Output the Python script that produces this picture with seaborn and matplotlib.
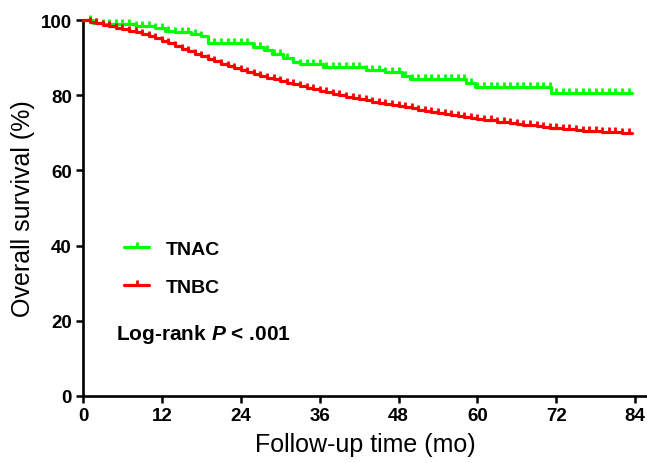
# Kaplan-Meier style overall survival plot, TNAC vs TNBC
import numpy as np
import pandas as pd
import matplotlib
matplotlib.use('Agg')
import matplotlib.pyplot as plt
from matplotlib.lines import Line2D
import seaborn as sns

# ── data ─────────────────────────────────────────────────────
tnac_time = [0, 1.5, 3, 8, 11, 12.5, 14, 16.5, 18, 19, 25.8, 27.5, 28.8, 30.5,
             32, 33, 36.5, 43, 46, 48.5, 49.8, 58.3, 59.7, 71.2, 83.5]
tnac_surv = [100, 99.3, 98.9, 98.5, 97.8, 97.2, 96.8, 96.3, 95.8, 94.0, 92.8,
             91.9, 91.0, 89.8, 88.9, 88.2, 87.5, 86.8, 86.2, 85.2, 84.2, 83.3,
             82.3, 80.6, 80.6]

tnbc_time = list(range(0, 84)) + [83.5]
tnbc_surv = [100, 99.6, 99.2, 98.8, 98.4, 98.0, 97.6, 97.2, 96.8, 96.4,
             95.8, 95.2, 94.5, 93.8, 93.1, 92.4, 91.7, 91.0, 90.3, 89.6,
             89.0, 88.4, 87.8, 87.2, 86.7, 86.2, 85.7, 85.2, 84.7, 84.2,
             83.7, 83.3, 82.9, 82.4, 82.0, 81.6, 81.2, 80.8, 80.4, 80.0,
             79.6, 79.2, 78.9, 78.6, 78.3, 78.0, 77.7, 77.4, 77.1, 76.8,
             76.5, 76.2, 75.9, 75.6, 75.4, 75.1, 74.8, 74.6, 74.3, 74.0,
             73.8, 73.5, 73.3, 73.0, 72.8, 72.6, 72.4, 72.2, 72.0, 71.8,
             71.6, 71.4, 71.2, 71.0, 70.9, 70.7, 70.6, 70.5, 70.4, 70.3,
             70.2, 70.1, 70.0, 69.9, 69.9]

censor_times = list(range(1, 84))
groups = ['TNAC', 'TNBC']
colors = {'TNAC': '#00ff00', 'TNBC': '#ff0000'}

df = pd.concat([
    pd.DataFrame({'time': tnac_time, 'surv': tnac_surv, 'group': 'TNAC'}),
    pd.DataFrame({'time': tnbc_time, 'surv': tnbc_surv, 'group': 'TNBC'}),
], ignore_index=True)

# ── style ────────────────────────────────────────────────────
sns.set_style('ticks')
plt.rcParams['font.family'] = ['Liberation Sans', 'DejaVu Sans']
plt.rcParams['mathtext.fontset'] = 'custom'
plt.rcParams['mathtext.it'] = 'Liberation Sans:italic:bold'
plt.rcParams['mathtext.rm'] = 'Liberation Sans:bold'
for key in ['text.color', 'axes.labelcolor', 'xtick.color', 'ytick.color']:
    plt.rcParams[key] = 'black'

fig = plt.figure(figsize=(6.47, 4.64), dpi=100)
ax = fig.add_axes([0.1283, 0.1444, 0.8717, 0.8103])

tick_marker = [(0, 0), (0, 1)]  # upward censor tick

for g in groups:
    sub = df[df['group'] == g]
    sns.lineplot(data=sub, x='time', y='surv', color=colors[g], lw=2.3,
                 drawstyle='steps-post', ax=ax, clip_on=False, zorder=3)
    # censor marks sit on the step curve
    t = np.asarray(sub['time'])
    s = np.asarray(sub['surv'])
    ct = np.array([c for c in censor_times if c <= t[-1]])
    cs = s[np.searchsorted(t, ct, side='right') - 1]
    ax.plot(ct, cs, ls='none', marker=tick_marker, ms=7, mew=2,
            color=colors[g], clip_on=False, zorder=3)

ax.set_xlim(0, 85.8)
ax.set_ylim(0, 100)
ax.set_xticks(range(0, 85, 12))
ax.set_yticks(range(0, 101, 20))
ax.tick_params(width=1.8, length=5, labelsize=13.5, color='black', pad=3)
for lab in ax.get_xticklabels() + ax.get_yticklabels():
    lab.set_fontweight('bold')
sns.despine(ax=ax)
for sp in ['left', 'bottom']:
    ax.spines[sp].set_linewidth(1.9)
    ax.spines[sp].set_color('black')

ax.set_xlabel('Follow-up time (mo)', fontsize=18, labelpad=6)
ax.set_ylabel('Overall survival (%)', fontsize=18, labelpad=4)

handles = [Line2D([], [], color=colors[g], lw=2.3, marker=tick_marker,
                  ms=7, mew=2) for g in groups]
ax.legend(handles, groups, loc='upper left', bbox_to_anchor=(0.073, 0.415),
          frameon=False, numpoints=1, handlelength=1.3, handletextpad=0.85,
          labelspacing=1.05, borderpad=0, borderaxespad=0,
          prop={'weight': 'bold', 'size': 14})

ax.text(0.058, 0.165, r'Log-rank $\mathit{P}$ < .001', transform=ax.transAxes,
        fontsize=15, fontweight='bold', va='center', ha='left')

fig.savefig('out.png', dpi=100)
